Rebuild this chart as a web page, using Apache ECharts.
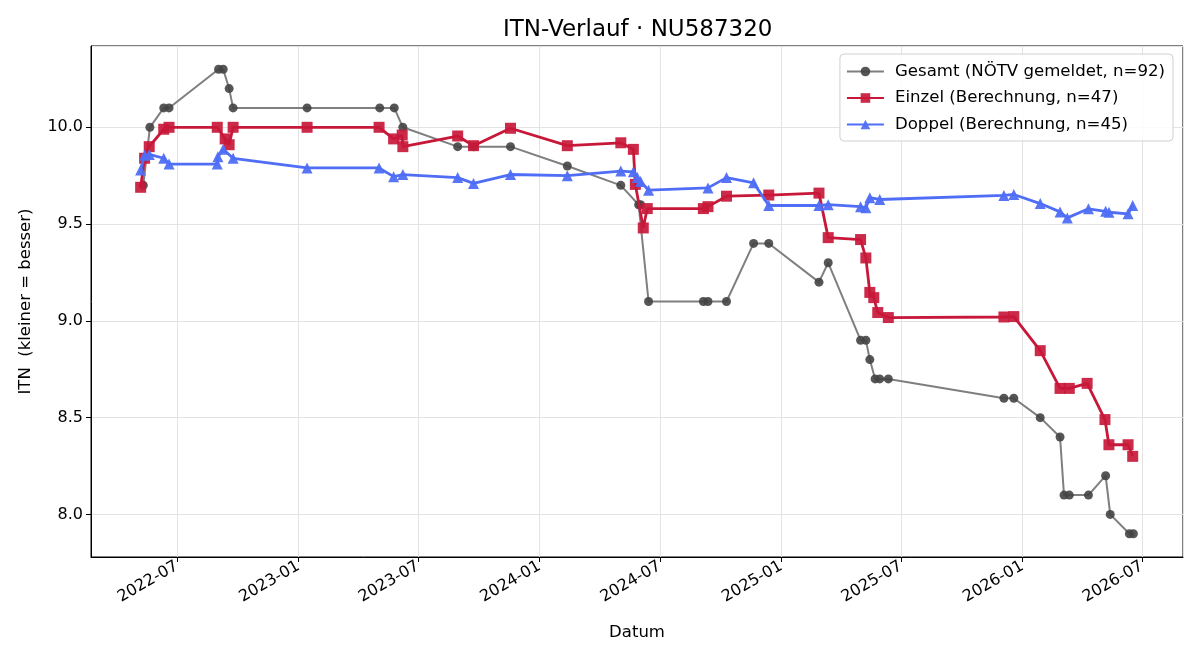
<!DOCTYPE html>
<html lang="de">
  <head>
    <meta charset="UTF-8" />
    <title>ITN-Verlauf</title>
    <style>
      html, body { margin: 0; padding: 0; background: #fff; }
      #main { width: 1200px; height: 660px; }
    </style>
  </head>
  <body>
    <div id="main"></div>
    <script src="https://cdn.jsdelivr.net/npm/echarts@6/dist/echarts.min.js"></script>
    <script>
      /* globals echarts */

      // Gesamt (NÖTV gemeldet)
      var gesamtDates = [
        "2022-05-11", "2022-05-21", "2022-06-11", "2022-06-19", "2022-09-02", "2022-09-09",
        "2022-09-18", "2022-09-24", "2023-01-14", "2023-05-04", "2023-05-26", "2023-06-08",
        "2023-08-30", "2023-09-23", "2023-11-18", "2024-02-12", "2024-05-03", "2024-05-30",
        "2024-06-02", "2024-06-14", "2024-09-05", "2024-09-12", "2024-10-10", "2024-11-20",
        "2024-12-13", "2025-02-27", "2025-03-13", "2025-05-01", "2025-05-09", "2025-05-15",
        "2025-05-23", "2025-05-30", "2025-06-12", "2025-12-04", "2025-12-19", "2026-01-28",
        "2026-02-27", "2026-03-05", "2026-03-13", "2026-04-11", "2026-05-07", "2026-05-14",
        "2026-06-12", "2026-06-18"
      ];
      var gesamtValues = [
        9.7, 10.0, 10.1, 10.1, 10.3, 10.3,
        10.2, 10.1, 10.1, 10.1, 10.1, 10.0,
        9.9, 9.9, 9.9, 9.8, 9.7, 9.6,
        9.6, 9.1, 9.1, 9.1, 9.1, 9.4,
        9.4, 9.2, 9.3, 8.9, 8.9, 8.8,
        8.7, 8.7, 8.7, 8.6, 8.6, 8.5,
        8.4, 8.1, 8.1, 8.1, 8.2, 8.0,
        7.9, 7.9
      ];

      // Einzel (Berechnung)
      var einzelDates = [
        "2022-05-07", "2022-05-13", "2022-05-20", "2022-06-11", "2022-06-19", "2022-08-31",
        "2022-09-12", "2022-09-18", "2022-09-24", "2023-01-14", "2023-05-03", "2023-05-25",
        "2023-06-07", "2023-06-08", "2023-08-30", "2023-09-23", "2023-11-18", "2024-02-12",
        "2024-05-03", "2024-05-22", "2024-05-25", "2024-06-06", "2024-06-12", "2024-09-05",
        "2024-09-12", "2024-10-10", "2024-12-13", "2025-02-27", "2025-03-13", "2025-05-01",
        "2025-05-09", "2025-05-15", "2025-05-21", "2025-05-27", "2025-06-12", "2025-12-04",
        "2025-12-19", "2026-01-28", "2026-02-27", "2026-03-13", "2026-04-09", "2026-05-06",
        "2026-05-12", "2026-06-10", "2026-06-17"
      ];
      var einzelValues = [
        9.69, 9.84, 9.90, 9.99, 10.0, 10.0,
        9.94, 9.91, 10.0, 10.0, 10.0, 9.94,
        9.96, 9.90, 9.955, 9.905, 9.995, 9.905,
        9.92, 9.886, 9.705, 9.48, 9.58, 9.58,
        9.59, 9.644, 9.65, 9.66, 9.43, 9.42,
        9.325, 9.147, 9.12, 9.043, 9.017, 9.02,
        9.022, 8.846, 8.651, 8.651, 8.677, 8.49,
        8.36, 8.36, 8.30
      ];

      // Doppel (Berechnung)
      var doppelDates = [
        "2022-05-07", "2022-05-13", "2022-05-20", "2022-06-11", "2022-06-19", "2022-08-31",
        "2022-09-01", "2022-09-09", "2022-09-24", "2023-01-14", "2023-05-03", "2023-05-25",
        "2023-06-08", "2023-08-30", "2023-09-23", "2023-11-18", "2024-02-12", "2024-05-03",
        "2024-05-22", "2024-05-28", "2024-06-02", "2024-06-14", "2024-09-12", "2024-10-10",
        "2024-11-20", "2024-12-13", "2025-02-27", "2025-03-13", "2025-05-01", "2025-05-09",
        "2025-05-15", "2025-05-30", "2025-12-04", "2025-12-19", "2026-01-28", "2026-02-27",
        "2026-03-10", "2026-04-11", "2026-05-07", "2026-05-12", "2026-06-10", "2026-06-17"
      ];
      var doppelValues = [
        9.78, 9.855, 9.86, 9.84, 9.81, 9.81,
        9.848, 9.886, 9.84, 9.79, 9.79, 9.745,
        9.756, 9.74, 9.71, 9.756, 9.75, 9.774,
        9.77, 9.74, 9.72, 9.675, 9.687, 9.74,
        9.713, 9.596, 9.596, 9.60, 9.59, 9.584,
        9.636, 9.627, 9.648, 9.653, 9.606, 9.563,
        9.532, 9.579, 9.566, 9.561, 9.553, 9.596
      ];

      var seriesNames = [
        "Gesamt (NÖTV gemeldet, n=92)",
        "Einzel (Berechnung, n=47)",
        "Doppel (Berechnung, n=45)"
      ];

      function pairs(dates, values) {
        return dates.map(function (d, i) {
          return [d, values[i]];
        });
      }

      function ts(s) {
        var p = s.split("-");
        return new Date(+p[0], +p[1] - 1, +p[2]).getTime();
      }

      // matplotlib-like 5% margins
      var allDates = gesamtDates.concat(einzelDates, doppelDates).map(ts);
      var allValues = gesamtValues.concat(einzelValues, doppelValues);
      var tMin = Math.min.apply(null, allDates);
      var tMax = Math.max.apply(null, allDates);
      var vMin = Math.min.apply(null, allValues);
      var vMax = Math.max.apply(null, allValues);
      var xMin = tMin - 0.05 * (tMax - tMin);
      var xMax = tMax + 0.05 * (tMax - tMin);
      var yMin = vMin - 0.05 * (vMax - vMin);
      var yMax = vMax + 0.05 * (vMax - vMin);

      var font = "DejaVu Sans";
      var chart = echarts.init(document.getElementById("main"), null, { renderer: "canvas" });

      var option = {
        animation: false,
        backgroundColor: "#fff",
        title: {
          text: "ITN-Verlauf · NU587320",
          left: 498,
          top: 14,
          textStyle: { fontFamily: font, fontSize: 23, fontWeight: "normal", color: "#000" }
        },
        legend: {
          orient: "vertical",
          right: 27,
          top: 54,
          padding: [9, 8, 8, 6],
          itemGap: 9.5,
          itemWidth: 37,
          itemHeight: 12,
          backgroundColor: "rgba(255,255,255,0.85)",
          borderColor: "#d0d0d0",
          borderWidth: 1,
          borderRadius: 4,
          textStyle: { fontFamily: font, fontSize: 16.6, color: "#000", padding: [0, 0, 0, 6] },
          data: seriesNames
        },
        grid: {
          left: 91,
          right: 17,
          top: 46,
          bottom: 103,
          show: true,
          borderColor: "#000",
          borderWidth: 1,
          containLabel: false
        },
        xAxis: {
          type: "time",
          min: xMin,
          max: xMax,
          splitNumber: 9,
          name: "Datum",
          nameLocation: "middle",
          nameGap: 67,
          nameTextStyle: { fontFamily: font, fontSize: 16.5, color: "#000" },
          axisLine: { show: true, lineStyle: { color: "#000", width: 1 } },
          axisTick: { show: true, length: 5, lineStyle: { color: "#000" } },
          axisLabel: {
            rotate: 30,
            margin: 8,
            showMinLabel: false,
            showMaxLabel: false,
            fontFamily: font,
            fontSize: 16,
            color: "#000",
            formatter: function (value) {
              var d = new Date(value);
              var m = d.getMonth() + 1;
              return d.getFullYear() + "-" + (m < 10 ? "0" + m : m);
            }
          },
          splitLine: { show: true, lineStyle: { color: "#e3e3e3", width: 1 } }
        },
        yAxis: {
          type: "value",
          min: yMin,
          max: yMax,
          name: "ITN  (kleiner = besser)",
          nameLocation: "middle",
          nameGap: 57,
          nameTextStyle: { fontFamily: font, fontSize: 16.5, color: "#000" },
          axisLine: { show: true, lineStyle: { color: "#000", width: 1 } },
          axisTick: { show: true, length: 5, lineStyle: { color: "#000" } },
          axisLabel: {
            showMinLabel: false,
            showMaxLabel: false,
            fontFamily: font,
            fontSize: 16,
            color: "#000",
            margin: 8,
            formatter: function (v) {
              return v.toFixed(1);
            }
          },
          splitLine: { show: true, lineStyle: { color: "#e3e3e3", width: 1 } }
        },
        series: [
          {
            name: seriesNames[0],
            type: "line",
            data: pairs(gesamtDates, gesamtValues),
            symbol: "circle",
            symbolSize: 9,
            z: 2,
            lineStyle: { color: "#7f7f7f", width: 2 },
            itemStyle: { color: "#444", opacity: 0.9 }
          },
          {
            name: seriesNames[1],
            type: "line",
            data: pairs(einzelDates, einzelValues),
            symbol: "rect",
            symbolSize: 11,
            z: 3,
            lineStyle: { color: "#c8183a", width: 2.8 },
            itemStyle: { color: "#c8183a", opacity: 0.92 }
          },
          {
            name: seriesNames[2],
            type: "line",
            data: pairs(doppelDates, doppelValues),
            symbol: "triangle",
            symbolSize: 11,
            z: 4,
            lineStyle: { color: "#4f6ef5", width: 2.8 },
            itemStyle: { color: "#4f6ef5", opacity: 0.95 }
          }
        ]
      };

      chart.setOption(option);
    </script>
  </body>
</html>
